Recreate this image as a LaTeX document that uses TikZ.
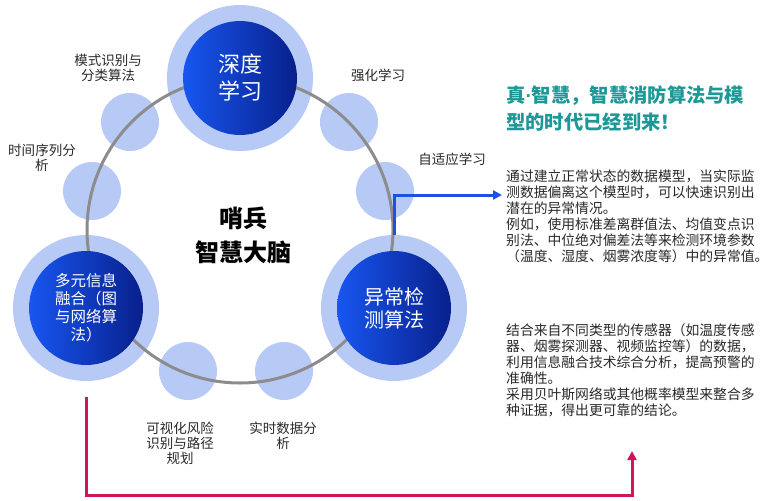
\documentclass[tikz,border=0pt]{standalone}
\usepackage{fontspec}
\setmainfont{Noto Sans CJK SC}
\newfontfamily\latinfont{Liberation Sans}
\usetikzlibrary{arrows.meta}
\definecolor{lightring}{RGB}{183,201,245}
\definecolor{ringgray}{RGB}{140,140,140}
\definecolor{blueL}{RGB}{24,86,240}
\definecolor{blueR}{RGB}{8,32,140}
\definecolor{titleteal}{RGB}{28,152,150}
\definecolor{arrowblue}{RGB}{30,80,230}
\definecolor{crimsonline}{RGB}{210,20,90}
\definecolor{txtgray}{RGB}{40,40,40}
\tikzset{
  bigout/.style={circle, fill=lightring, minimum size=146pt, inner sep=0pt},
  bigin/.style={circle, minimum size=114pt, inner sep=0pt, left color=blueL, right color=blueR, text=white, align=center},
  smallc/.style={circle, fill=lightring, minimum size=58pt, inner sep=0pt},
  ringline/.style={circle, draw=ringgray, line width=3pt, inner sep=0pt, minimum size=306pt},
  lab/.style={text=txtgray, align=center, inner sep=0pt, font=\fontsize{13.5}{15}\selectfont},
  para/.style={text=txtgray, align=left, inner sep=0pt, anchor=west, font=\fontsize{13.8}{16}\selectfont},
  conn/.style={line width=3pt},
}
\begin{document}
\begin{tikzpicture}[x=1pt,y=-1pt]
\useasboundingbox (0,0) rectangle (767,500);
% light circles
\node[bigout] (dlO) at (240,78) {};
\node[bigout] (fuO) at (86,308) {};
\node[bigout] (anO) at (394,308) {};
\node[smallc] (s1) at (130,122) {};
\node[smallc] (s2) at (92,191) {};
\node[smallc] (s3) at (349,122) {};
\node[smallc] (s4) at (385,191) {};
\node[smallc] (s5) at (188,371) {};
\node[smallc] (s6) at (284,371) {};
% ring
\node[ringline] (ring) at (240,230) {};
% dark circles
\node[bigin, font=\fontsize{22}{27}\selectfont] (dlI) at (240,78) {深度\\学习};
\node[bigin, font=\fontsize{15.5}{18}\selectfont] (fuI) at (86,308) {多元信息\\融合（图\\与网络算\\法）};
\node[bigin, font=\fontsize{20}{23}\selectfont] (anI) at (394,308) {异常检\\测算法};
% center
\node[align=center, inner sep=0pt, font=\fontsize{24}{34}\bfseries\selectfont] (brain) at (243,235) {哨兵\\智慧大脑};
% labels
\node[lab] (l1) at (108,68) {模式识别与\\分类算法};
\node[lab] (l2) at (42,158) {时间序列分\\析};
\node[lab] (l3) at (378,75) {强化学习};
\node[lab] (l4) at (452,159) {自适应学习};
\node[lab] (l5) at (180,443) {可视化风险\\识别与路径\\规划};
\node[lab] (l6) at (283,436) {实时数据分\\析};
% right texts
\node[anchor=west, align=left, inner sep=0pt, text=titleteal, font=\fontsize{19.3}{27}\bfseries\selectfont] (title) at (506,108.5) {真{\latinfont\bfseries ·}智慧，智慧消防算法与模\\型的时代已经到来！};
\node[para] (p1) at (506,216.5) {通过建立正常状态的数据模型，当实际监\\测数据偏离这个模型时，可以快速识别出\\潜在的异常情况。\\例如，使用标准差离群值法、均值变点识\\别法、中位绝对偏差法等来检测环境参数\\（温度、湿度、烟雾浓度等）中的异常值。};
\node[para] (p2) at (506,370) {结合来自不同类型的传感器（如温度传感\\器、烟雾探测器、视频监控等）的数据，\\利用信息融合技术综合分析，提高预警的\\准确性。\\采用贝叶斯网络或其他概率模型来整合多\\种证据，得出更可靠的结论。};
% connectors
\coordinate (blueEnd) at (502,195);
\draw[conn, draw=arrowblue, -{Triangle[length=9pt,width=9pt]}] (anO.north) |- (blueEnd);
\coordinate (pinkStart) at (86,397);
\coordinate (pinkCorner) at (86,495);
\coordinate (pinkEnd) at (632,451);
\draw[conn, draw=crimsonline, -{Triangle[length=9pt,width=9pt]}] (pinkStart) -- (pinkCorner) -| (pinkEnd);
\end{tikzpicture}
\end{document}
